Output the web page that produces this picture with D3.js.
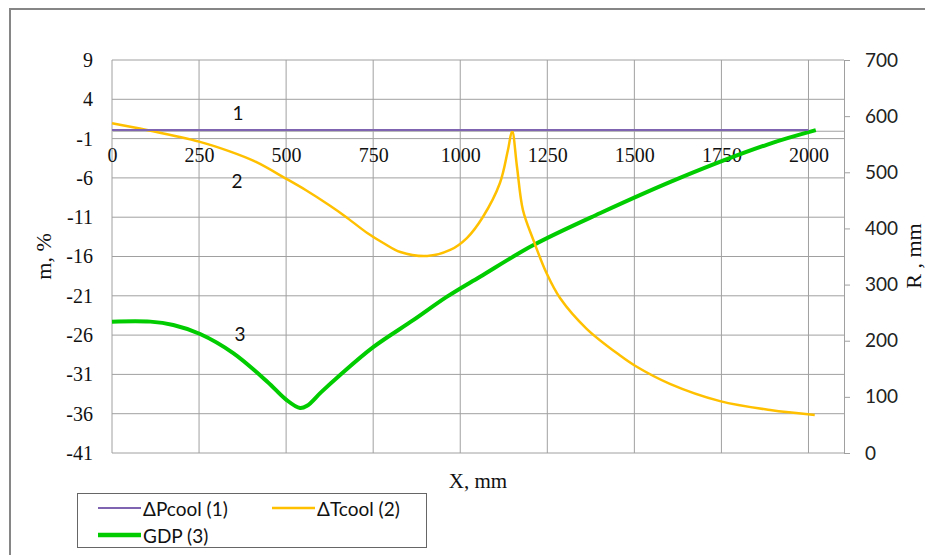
<!DOCTYPE html>
<html><head><meta charset="utf-8">
<script src="https://cdn.jsdelivr.net/npm/d3@7"></script>
<style>body{margin:0;background:#fff}svg{display:block}</style>
</head><body>
<svg id="c" width="925" height="555"></svg>
<script>
// ---- data ----
const leftTicks = [9, 4, -1, -6, -11, -16, -21, -26, -31, -36, -41];
const rightTicks = [0, 100, 200, 300, 400, 500, 600, 700];
const xTicks = [0, 250, 500, 750, 1000, 1250, 1500, 1750, 2000];

const pcoolX = [0, 500, 1000, 1500, 2000];
const pcoolY = [0.1, 0.1, 0.1, 0.1, 0.1];

const tcoolX = [0, 100, 250, 336, 412, 498, 556, 623, 670, 733, 779, 828, 905, 971, 1019, 1065, 1114, 1137, 1149, 1163, 1180, 1210, 1248, 1287, 1363, 1459, 1502, 1602, 1746, 1890, 2018];
const tcoolY = [0.95, 0.09, -1.39, -2.6, -3.94, -6.05, -7.54, -9.45, -10.9, -13.01, -14.28, -15.43, -15.94, -15.17, -13.65, -10.97, -6.65, -2.45, -0.03, -4.61, -10.08, -13.9, -18.14, -21.32, -25.2, -28.6, -29.9, -32.2, -34.4, -35.53, -36.16];

const gdpX = [0, 110, 176, 253, 348, 446, 500, 540, 560, 600, 655, 751, 866, 961, 1057, 1209, 1401, 1631, 1880, 2021];
const gdpR = [234, 234, 228, 212, 178, 127, 95, 80, 84, 108, 139, 189, 237, 278, 314, 370, 427, 490, 549, 575];

const seriesNames = ["ΔPcool (1)", "ΔTcool (2)", "GDP (3)"];
const curveLabels = ["1", "2", "3"];

// ---- layout ----
const svg = d3.select("#c");
const L = 112, R = 844, T = 60, B = 453;
const x = d3.scaleLinear().domain([0, 2102]).range([L, R]);
const yL = d3.scaleLinear().domain([-41, 9]).range([B, T]);
const yR = d3.scaleLinear().domain([0, 700]).range([B, T]);

const serif = "'Liberation Serif','Times New Roman',serif";
const sans = "Lato,'Noto Sans',sans-serif";
const grid = "#a0a0a0";
const plain = d => String(d);

// outer border
svg.append("rect").attr("x", 10).attr("y", 9).attr("width", 940).attr("height", 580)
  .attr("fill", "none").attr("stroke", "#868686").attr("stroke-width", 2);

// gridlines
svg.append("g").selectAll("line").data(leftTicks).join("line")
  .attr("x1", L).attr("x2", R).attr("y1", d => yL(d)).attr("y2", d => yL(d))
  .attr("stroke", grid).attr("stroke-width", 1);
svg.append("g").selectAll("line").data(xTicks).join("line")
  .attr("x1", d => x(d)).attr("x2", d => x(d)).attr("y1", T).attr("y2", B)
  .attr("stroke", grid).attr("stroke-width", 1);

// right axis
const rAxis = d3.axisRight(yR).tickValues(rightTicks).tickSize(6).tickPadding(15).tickFormat(plain);
const rg = svg.append("g").attr("transform", `translate(${R},0)`).call(rAxis);
rg.select(".domain").attr("stroke", grid);
rg.selectAll(".tick line").attr("stroke", grid);
rg.selectAll("text").attr("font-family", sans).attr("font-size", 19).attr("fill", "#222");

// left axis labels
const lAxis = d3.axisLeft(yL).tickValues(leftTicks).tickSize(0).tickPadding(19).tickFormat(plain);
const lg = svg.append("g").attr("transform", `translate(${L},0)`).call(lAxis);
lg.select(".domain").remove();
lg.selectAll("text").attr("font-family", serif).attr("font-size", 20).attr("fill", "#111");

// x axis at 0
const xAxis = d3.axisBottom(x).tickValues(xTicks).tickSize(0).tickPadding(17).tickFormat(plain);
const xg = svg.append("g").attr("transform", `translate(0,${yL(0)})`).call(xAxis);
xg.select(".domain").attr("stroke", grid);
xg.selectAll("text").attr("font-family", serif).attr("font-size", 20).attr("fill", "#111");

// axis titles
svg.append("text").attr("x", 478).attr("y", 488).attr("text-anchor", "middle")
  .attr("font-family", serif).attr("font-size", 21).attr("fill", "#111").text("X, mm");
svg.append("text").attr("transform", `translate(51,${(T + B) / 2}) rotate(-90)`).attr("text-anchor", "middle")
  .attr("font-family", serif).attr("font-size", 22).attr("fill", "#111").text("m, %");
svg.append("text").attr("transform", `translate(921,256) rotate(-90)`).attr("text-anchor", "middle")
  .attr("font-family", serif).attr("font-size", 22).attr("fill", "#111").text("R , mm");

// series
const colors = ["#7f64b2", "#ffc000", "#00cc00"];
const widths = [2, 2.5, 4];
const lineL = d3.line().x(d => x(d[0])).y(d => yL(d[1])).curve(d3.curveCatmullRom.alpha(0.5));
const lineR = d3.line().x(d => x(d[0])).y(d => yR(d[1])).curve(d3.curveCatmullRom.alpha(0.5));

svg.append("path").datum(gdpX.map((v, i) => [v, gdpR[i]])).attr("d", lineR)
  .attr("fill", "none").attr("stroke", colors[2]).attr("stroke-width", widths[2]).attr("stroke-linejoin", "round");
svg.append("path").datum(tcoolX.map((v, i) => [v, tcoolY[i]])).attr("d", lineL)
  .attr("fill", "none").attr("stroke", colors[1]).attr("stroke-width", widths[1]).attr("stroke-linejoin", "round");
svg.append("path").datum(pcoolX.map((v, i) => [v, pcoolY[i]])).attr("d", lineL)
  .attr("fill", "none").attr("stroke", colors[0]).attr("stroke-width", widths[0]);

// curve labels
const labelPos = [[238, 112], [237, 180], [240, 333]];
svg.append("g").selectAll("text").data(curveLabels).join("text")
  .attr("x", (d, i) => labelPos[i][0]).attr("y", (d, i) => labelPos[i][1])
  .attr("text-anchor", "middle").attr("dominant-baseline", "central")
  .attr("font-family", sans).attr("font-size", 19).attr("fill", "#111").text(d => d);

// legend
svg.append("rect").attr("x", 77.5).attr("y", 493.5).attr("width", 349).attr("height", 54)
  .attr("fill", "#fff").attr("stroke", "#666").attr("stroke-width", 1);
const legPos = [[98, 508], [272, 508], [98, 535]];
const lgItems = svg.append("g").selectAll("g").data(seriesNames).join("g")
  .attr("transform", (d, i) => `translate(${legPos[i][0]},${legPos[i][1]})`);
lgItems.append("line").attr("x1", 0).attr("x2", 43).attr("y1", 0).attr("y2", 0)
  .attr("stroke", (d, i) => colors[i]).attr("stroke-width", (d, i) => widths[i] + (i === 2 ? 0.5 : 0));
lgItems.append("text").attr("x", 45).attr("y", 0).attr("dominant-baseline", "central")
  .attr("font-family", sans).attr("font-size", 19).attr("fill", "#111").text(d => d);
</script>
</body></html>
